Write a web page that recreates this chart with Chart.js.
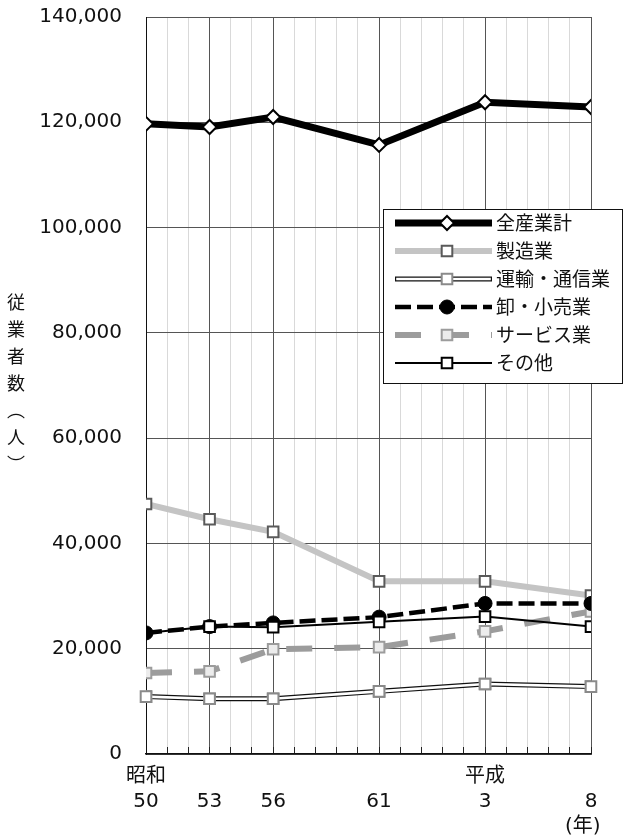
<!DOCTYPE html>
<html lang="ja">
<head>
<meta charset="utf-8">
<title>従業者数の推移</title>
<script src="https://cdn.jsdelivr.net/npm/chart.js@4.4.1/dist/chart.umd.min.js"></script>
<style>
  html, body { margin: 0; padding: 0; background: #fff; }
  #wrap { position: relative; width: 624px; height: 837px; }
</style>
</head>
<body>
<div id="wrap"><canvas id="chart"></canvas></div>
<script>
// Survey years (western calendar) and their era-based labels
const years = [1975, 1978, 1981, 1986, 1991, 1996];
const eraLabels = ['昭和', '', '', '', '平成', ''];
const yearLabels = ['50', '53', '56', '61', '3', '8'];
const unitLabel = '(年)';

// Persons employed, by industry
const seriesNames = ['全産業計', '製造業', '運輸・通信業', '卸・小売業', 'サービス業', 'その他'];
const allIndustries = [119700, 119100, 121000, 115700, 123800, 122900];
const manufacturing = [47500, 44600, 42200, 32800, 32800, 30100];
const transportComm = [10900, 10500, 10500, 11900, 13300, 12800];
const wholesaleRetail = [23000, 24200, 24900, 26000, 28600, 28600];
const services = [15400, 15700, 19900, 20300, 23300, 27100];
const others = [23000, 24200, 24100, 25100, 26100, 24200];

// Value axis
const yMin = 0;
const yMax = 140000;
const yStep = 20000;
const yAxisTitle = '従業者数︵人︶';

const toPoints = (vals) => vals.map((v, i) => ({ x: years[i], y: v }));

const FONT = '"DejaVu Sans", "Noto Sans CJK JP", sans-serif';
const JP_FONT = '"Noto Sans CJK JP", sans-serif';
Chart.defaults.font.family = FONT;
Chart.defaults.font.size = 20;
Chart.defaults.color = '#111';

// Re-strokes a thin inner line over the dataset's line to give a hollow "double" line
const doubleLine = {
  id: 'doubleLine',
  afterDatasetDraw(chart, args) {
    const ds = chart.data.datasets[args.index];
    if (!ds.innerLineColor) return;
    const pts = args.meta.data;
    const ctx = chart.ctx;
    ctx.save();
    ctx.strokeStyle = ds.innerLineColor;
    ctx.lineWidth = ds.innerLineWidth;
    ctx.lineJoin = 'miter';
    ctx.beginPath();
    pts.forEach((p, i) => (i ? ctx.lineTo(p.x, p.y) : ctx.moveTo(p.x, p.y)));
    ctx.stroke();
    pts.forEach((p) => p.draw(ctx, chart.chartArea));
    ctx.restore();
  }
};

// Boxed legend with line samples and a marker in the middle of each sample
const legendBox = {
  id: 'legendBox',
  afterDraw(chart) {
    const ctx = chart.ctx;
    const area = chart.chartArea;
    const left = area.left + 237;
    const top = area.top + 192;
    const w = 239, h = 174;
    ctx.save();
    ctx.fillStyle = '#fff';
    ctx.fillRect(left, top, w, h);
    ctx.strokeStyle = '#111';
    ctx.lineWidth = 1;
    ctx.strokeRect(left + 0.5, top + 0.5, w, h);
    chart.data.datasets.forEach((ds, i) => {
      const y = top + 14 + i * 28;
      const x0 = left + 12, x1 = left + 109, xm = left + 64;
      ctx.lineCap = 'butt';
      ctx.setLineDash(ds.borderDash || []);
      ctx.lineDashOffset = 0;
      ctx.strokeStyle = ds.borderColor;
      ctx.lineWidth = ds.borderWidth;
      ctx.beginPath();
      ctx.moveTo(x0, y);
      ctx.lineTo(x1, y);
      ctx.stroke();
      if (ds.innerLineColor) {
        ctx.strokeStyle = ds.innerLineColor;
        ctx.lineWidth = ds.innerLineWidth;
        ctx.beginPath();
        ctx.moveTo(x0 + 1.2, y);
        ctx.lineTo(x1 - 1.2, y);
        ctx.stroke();
      }
      ctx.setLineDash([]);
      const r = Array.isArray(ds.pointRadius) ? Math.max(...ds.pointRadius) : ds.pointRadius;
      ctx.fillStyle = ds.pointBackgroundColor;
      ctx.strokeStyle = ds.pointBorderColor;
      ctx.lineWidth = ds.pointBorderWidth;
      Chart.helpers.drawPoint(ctx, {
        pointStyle: ds.pointStyle, radius: r, rotation: 0, borderWidth: ds.pointBorderWidth
      }, xm, y);
      ctx.fillStyle = '#111';
      ctx.font = '19px ' + JP_FONT;
      ctx.textAlign = 'left';
      ctx.textBaseline = 'middle';
      ctx.fillText(ds.label, left + 113, y);
    });
    ctx.restore();
  }
};

// Vertical (top-to-bottom) value axis title
const verticalTitle = {
  id: 'verticalTitle',
  afterDraw(chart) {
    const ctx = chart.ctx;
    const area = chart.chartArea;
    const chars = Array.from(yAxisTitle);
    const step = 27;
    const start = (area.top + area.bottom) / 2 - step * (chars.length - 1) / 2 - 2;
    ctx.save();
    ctx.fillStyle = '#111';
    ctx.font = '18px ' + JP_FONT;
    ctx.textAlign = 'center';
    ctx.textBaseline = 'middle';
    chars.forEach((c, i) => ctx.fillText(c, 16, start + i * step));
    ctx.restore();
  }
};

const datasets = [
  {
    label: seriesNames[0], data: toPoints(allIndustries), order: 0,
    borderColor: '#000', borderWidth: 7,
    pointStyle: 'rectRot', pointRadius: 7, pointBorderWidth: 2,
    pointBorderColor: '#000', pointBackgroundColor: '#fff'
  },
  {
    label: seriesNames[1], data: toPoints(manufacturing), order: 4,
    borderColor: '#c4c4c4', borderWidth: 6,
    pointStyle: 'rect', pointRadius: 7.5, pointBorderWidth: 2,
    pointBorderColor: '#5a5a5a', pointBackgroundColor: '#fff'
  },
  {
    label: seriesNames[2], data: toPoints(transportComm), order: 5,
    borderColor: '#111', borderWidth: 5,
    innerLineColor: '#fff', innerLineWidth: 2.6,
    pointStyle: 'rect', pointRadius: 7.5, pointBorderWidth: 2,
    pointBorderColor: '#8a8a8a', pointBackgroundColor: '#fff'
  },
  {
    label: seriesNames[3], data: toPoints(wholesaleRetail), order: 2,
    borderColor: '#000', borderWidth: 4.5, borderDash: [16, 6],
    pointStyle: 'circle', pointRadius: 7, pointBorderWidth: 1,
    pointBorderColor: '#000', pointBackgroundColor: '#000'
  },
  {
    label: seriesNames[4], data: toPoints(services), order: 3,
    borderColor: '#9c9c9c', borderWidth: 6, borderDash: [26, 22],
    pointStyle: 'rect', pointRadius: 7.5, pointBorderWidth: 2,
    pointBorderColor: '#9c9c9c', pointBackgroundColor: '#ececec'
  },
  {
    label: seriesNames[5], data: toPoints(others), order: 1,
    borderColor: '#000', borderWidth: 2,
    pointStyle: 'rect', pointRadius: [0, 7.5, 7.5, 7.5, 7.5, 7.5], pointBorderWidth: 2,
    pointBorderColor: '#000', pointBackgroundColor: '#fff'
  }
];

new Chart(document.getElementById('chart'), {
  type: 'line',
  data: { datasets },
  plugins: [doubleLine, legendBox, verticalTitle],
  options: {
    responsive: true,
    maintainAspectRatio: false,
    animation: false,
    devicePixelRatio: 1,
    layout: { padding: { top: 17, right: 33, left: 0, bottom: 0 } },
    plugins: {
      legend: { display: false },
      tooltip: { enabled: false },
      title: { display: false }
    },
    scales: {
      x: {
        type: 'linear',
        min: years[0],
        max: years[years.length - 1],
        afterFit(scale) {
          scale.height = 83;
          scale.paddingLeft = 0;
          scale.paddingRight = 0;
        },
        border: { color: '#111', width: 1.5 },
        grid: {
          color: (c) => (c.tick && years.includes(c.tick.value) ? '#555' : '#d9d9d9'),
          lineWidth: 1,
          drawTicks: true,
          tickLength: -7,
          tickColor: '#222',
          tickWidth: 1
        },
        ticks: {
          stepSize: 1,
          autoSkip: false,
          maxRotation: 0,
          padding: 17,
          font: { size: 20, lineHeight: 1.25 },
          callback(value) {
            const i = years.indexOf(value);
            if (i < 0) return '';
            const lines = [eraLabels[i], yearLabels[i]];
            if (i === years.length - 1) lines.push(unitLabel + '\u2002\u2004');
            return lines;
          }
        }
      },
      y: {
        min: yMin,
        max: yMax,
        afterFit(scale) {
          scale.width = 146;
          scale.paddingTop = 0;
          scale.paddingBottom = 0;
        },
        border: { color: '#111', width: 1 },
        grid: { color: '#555', lineWidth: 1, drawTicks: false },
        ticks: {
          stepSize: yStep,
          padding: 24,
          font: { size: 20 },
          callback: (v) => v.toLocaleString('en-US')
        }
      }
    }
  }
});
</script>
</body>
</html>
